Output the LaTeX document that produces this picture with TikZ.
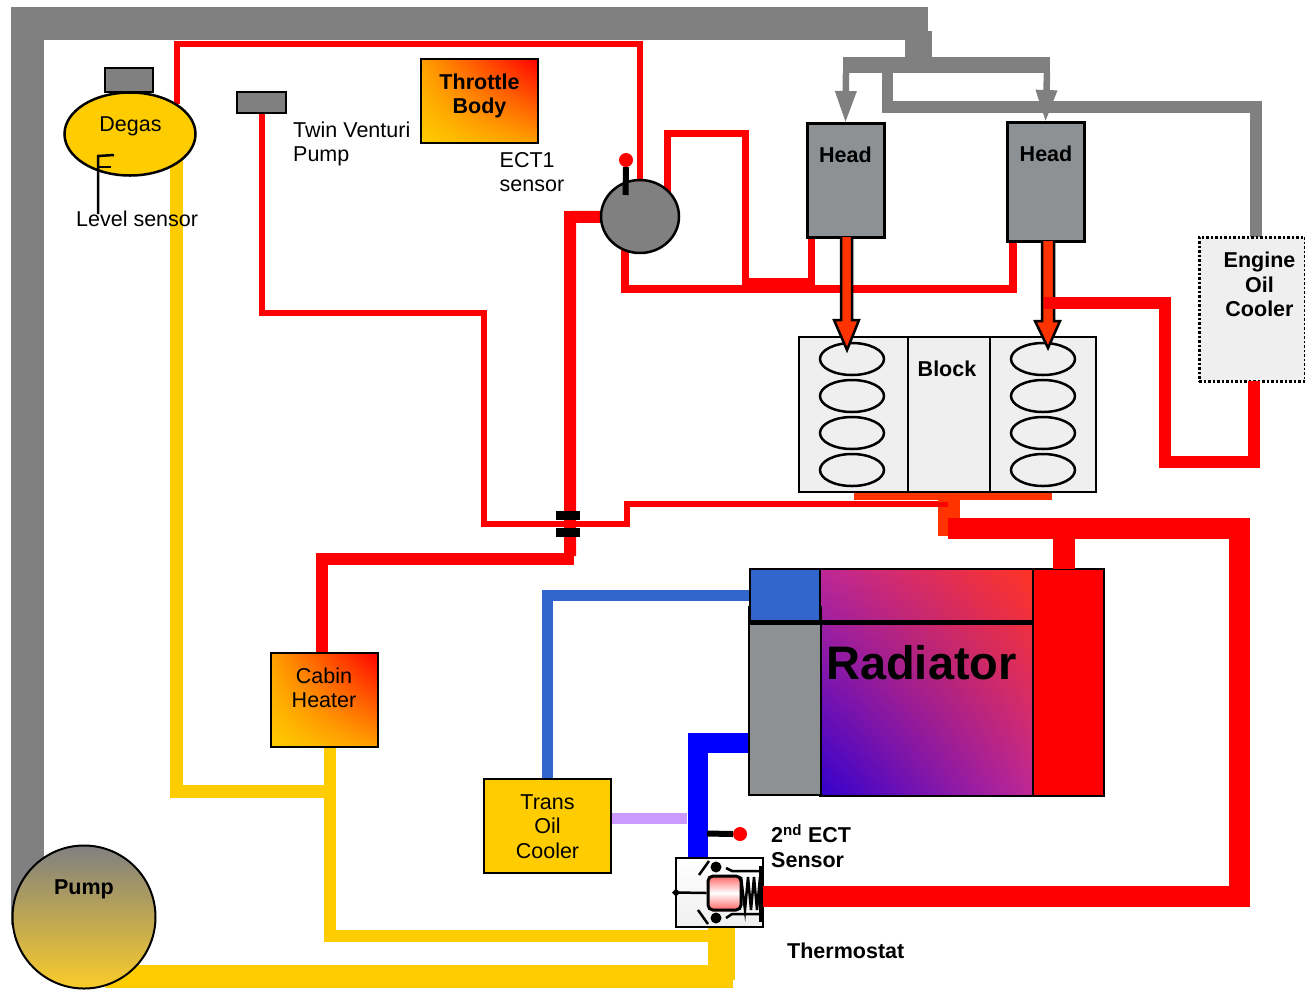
\documentclass[tikz,border=0pt]{standalone}
\usepackage{fontspec}
\setmainfont{Liberation Sans}
\usepackage{xcolor}
\usepackage{tikz}
\usetikzlibrary{backgrounds,shadings,shapes.geometric,arrows.meta}

\definecolor{pipegray}{HTML}{808080}
\definecolor{headgray}{HTML}{8E9194}
\definecolor{coolant}{HTML}{FFCC00}
\definecolor{hotpipe}{HTML}{FF3300}
\definecolor{transblue}{HTML}{3366CC}
\definecolor{lavender}{HTML}{CC99FF}
\definecolor{blockfill}{HTML}{EFEFEF}
\definecolor{warmmid}{HTML}{FFA000}
\definecolor{coldcorner}{HTML}{3300CC}
\definecolor{hotcorner}{HTML}{FF3322}
\definecolor{radmid}{HTML}{BE2896}
\definecolor{pumpmid}{HTML}{DCB658}
\definecolor{pumplow}{HTML}{FACC2A}

\tikzset{
    box/.style={draw=black, line width=2.5pt, inner sep=0pt, outer sep=0pt, align=center},
    warmbox/.style={box, lower left=coolant, upper right=red, upper left=warmmid, lower right=warmmid},
    txt/.style={font=\fontsize{21.5}{24.5}\selectfont, align=center, inner sep=0pt},
    boldtxt/.style={txt, font=\fontsize{21.5}{24.5}\selectfont\bfseries},
    leftxt/.style={txt, align=left, anchor=west},
    pipe/.style={line cap=butt, line join=miter},
    sensorstem/.style={black, line width=6pt},
    sensordot/.style={circle, fill=red, inner sep=0pt, minimum size=14pt},
    grayarrow/.style={-{Triangle[length=32pt,width=20pt]}, pipegray, line width=6.5pt},
    hotarrow/.style={draw=black, fill=hotpipe, line width=2.5pt, line join=miter},
}

\begin{document}
\begin{tikzpicture}[x=1pt,y=-1pt]
    \useasboundingbox (0,0) rectangle (1305,989);

    % Tanks and pump
    \node[box, fill=pipegray, minimum width=48pt, minimum height=24pt] (DegasCap) at (129,80) {};
    \node[ellipse, box, fill=coolant, minimum width=131pt, minimum height=83pt] (Degas) at (130,134) {};
    \node[box, fill=pipegray, minimum width=49pt, minimum height=21pt] (Venturi) at (261.5,102.5) {};
    \node[circle, draw=black, line width=2pt, top color=pipegray, middle color=pumpmid, bottom color=pumplow, minimum size=143pt, inner sep=0pt] (Pump) at (84,917) {};

    % Boxes
    \node[warmbox, minimum width=117pt, minimum height=84pt] (Throttle) at (479.5,101) {};
    \node[warmbox, minimum width=107pt, minimum height=94pt] (Heater) at (324.5,700) {};
    \node[box, fill=coolant, minimum width=127pt, minimum height=94pt] (TransCooler) at (547.5,826) {};
    \node[box, fill=headgray, line width=3pt, minimum width=77pt, minimum height=114pt] (HeadA) at (845.5,180) {};
    \node[box, fill=headgray, line width=3pt, minimum width=77pt, minimum height=119pt] (HeadB) at (1045.5,181.5) {};
    \node[box, fill=blockfill, dotted, line width=3pt, minimum width=106pt, minimum height=144pt] (OilCooler) at (1252,309) {};
    \node[ellipse, draw=black, line width=2.5pt, fill=pipegray, minimum width=78pt, minimum height=73pt, inner sep=0pt] (Valve) at (640,216.5) {};

    % Block
    \node[box, fill=blockfill, minimum width=297pt, minimum height=155pt] (Block) at (947.5,414.5) {};
    \draw[line width=2.5pt] (908,337) -- (908,492);
    \draw[line width=2.5pt] (990,337) -- (990,492);
    \foreach \i in {359,396,433,470} {
        \draw[line width=2.5pt] (852,\i) ellipse (32 and 16);
        \draw[line width=2.5pt] (1043,\i) ellipse (32 and 16);
    }

    % Radiator
    \node[box, fill=red, line width=2pt, minimum width=71pt, minimum height=227pt] (RadRed) at (1068.5,682.5) {};
    \node[box, line width=2pt, lower left=coldcorner, upper right=hotcorner, upper left=radmid, lower right=radmid, minimum width=213pt, minimum height=227pt] (RadCore) at (926.5,682.5) {};
    \node[box, fill=headgray, line width=2pt, minimum width=72pt, minimum height=188pt] (RadGray) at (784.5,701) {};
    \node[box, fill=transblue, line width=2pt, minimum width=70pt, minimum height=53pt] (RadBlue) at (785,595.5) {};
    \draw[line width=5pt] (RadBlue.south west) -- (RadRed.west |- RadBlue.south);

    % Thermostat
    \node[box, top color=white, bottom color=blockfill, minimum width=87pt, minimum height=69pt] (Thermostat) at (719.5,892.5) {};
    \node[draw=black, line width=3pt, rounded corners=5pt, top color=red!60!white, bottom color=red!60!white, middle color=white, minimum width=33pt, minimum height=34pt, inner sep=0pt] (Piston) at (724.5,893) {};
    \draw[line width=2.5pt] (741,877) -- (745,910) -- (748,877) -- (751,910) -- (754,877) -- (757,910) -- (760,877);
    \draw[line width=3pt] (760,866) -- (760,922);
    \draw[line width=2.5pt] (726,868) -- (732,871) -- (760,871);
    \draw[line width=2.5pt] (726,918) -- (732,914) -- (760,914);
    \draw[line width=2.5pt] (699,875) -- (709,861);
    \draw[line width=2.5pt] (698,910) -- (708,924);
    \draw[line width=2.5pt] (Thermostat.west) -- (Piston.west);
    \fill (Thermostat.west) +(-4,0) -- +(0,-4) -- +(4,0) -- +(0,4) -- cycle;
    \fill (716,867) circle (5.5);
    \fill (716,918) circle (5.5);

    % Ports
    \coordinate (DegasOut) at (176.5,160);
    \coordinate (DegasIn) at (176.5,104);
    \coordinate (ValveHot) at (667,192);
    \coordinate (ValveLow) at (625,250);
    \coordinate (HeadAOut) at (811,237);
    \coordinate (HeadBOut) at (1013,241);
    \coordinate (GrayDrop) at (918,31);

    \begin{scope}[on background layer]
        % Gray return
        \draw[pipe, pipegray, line width=33pt] (27.5,925) -- (27.5,23.5) -- (928,23.5);
        \draw[pipe, pipegray, line width=27pt] (GrayDrop) -- (918,62);
        \draw[pipe, pipegray, line width=16pt] (843,65) -- (1050,65);
        \draw[pipe, pipegray, line width=11.5pt] (887.5,70) -- (887.5,107) -- (1256,107) -- (1256,237);

        % Yellow lines
        \draw[pipe, coolant, line width=13pt] (DegasOut) -- (176.5,791) -- (336,791);
        \draw[pipe, coolant, line width=12pt] (330,747) -- (330,936) -- (735,936);
        \draw[pipe, coolant, line width=23pt] (105,976.5) -- (733,976.5);
        \draw[pipe, coolant, line width=27pt] (721.5,928) -- (721.5,980);

        % Red lines
        \draw[pipe, red, line width=6pt] (DegasIn) -- (176.5,44) -- (640,44) -- (Valve.north);
        \draw[pipe, red, line width=6pt] (Venturi.south) -- (261.5,313) -- (484,313) -- (484,523.5) -- (627,523.5) -- (627,504) -- (948,504);
        \draw[pipe, red, line width=12pt] (Valve.center) -- (570,217) -- (570,556);
        \draw[pipe, red, line width=12pt] (574,559) -- (322,559) -- (322,653);
        \draw[pipe, red, line width=7pt] (HeadAOut) -- (811,281) -- (745,281) -- (745,133) -- (667,133) -- (ValveHot);
        \draw[pipe, red, line width=7.5pt] (ValveLow) -- (625,289) -- (1013,289) -- (HeadBOut);

        % Blue lines
        \draw[pipe, transblue, line width=11pt] (RadBlue.west) -- (547.5,595.5) -- (TransCooler.north);
        \draw[pipe, blue, line width=20pt] (749,743) -- (697.5,743) -- (697.5,858);
        \draw[pipe, lavender, line width=11pt] (611,818) -- (687,818);

        % Block drain
        \draw[pipe, hotpipe, line width=7pt] (854,496.5) -- (1052,496.5);
        \draw[pipe, hotpipe, line width=22pt] (949,492) -- (949,536);
    \end{scope}

    % Head to block
    \draw[hotarrow] (841,237) -- (841,320) -- (834,320) -- (847,350) -- (859,320) -- (852,320) -- (852,237);
    \draw[hotarrow] (1042,241) -- (1042,321) -- (1035,321) -- (1048,348) -- (1060,321) -- (1054,321) -- (1054,241);

    % Arrows into heads
    \draw[grayarrow] (846,73) -- (HeadA.north);
    \draw[grayarrow] (1047,73) -- (HeadB.north);

    % Hot lines
    \draw[pipe, red, line width=12pt] (1254,381) -- (1254,462) -- (1165,462) -- (1165,303) -- (1044,303);
    \draw[pipe, red, line width=21pt] (948,528) -- (1239.5,528) -- (1239.5,896.5) -- (Thermostat.east |- 0,896.5);
    \draw[pipe, red, line width=22pt] (1064,528) -- (1064,569);
    \draw[pipe, red, line width=5pt] (870,504) -- (948,504);

    % Clamps
    \fill (556,511) rectangle (580,520);
    \fill (556,528) rectangle (580,537);

    % Sensors
    \node[sensordot] (SensorA) at (626,160) {};
    \draw[sensorstem] (SensorA.south) -- (625.5,195);
    \node[sensordot] (SensorB) at (740,834) {};
    \draw[sensorstem] (SensorB.west) -- (707,833.5);
    \draw[line width=2.5pt] (98,214) -- (98,156) -- (114,155);
    \draw[line width=2.5pt] (98,167) -- (111,167);

    % Labels
    \node[txt] (DegasLabel) at (130.5,126) {Degas};
    \node[leftxt] (VenturiLabel) at (293,144) {Twin Venturi\\Pump};
    \node[txt, anchor=west] (LevelLabel) at (76,219) {Level sensor};
    \node[boldtxt] (ThrottleLabel) at (479.5,96) {Throttle\\Body};
    \node[leftxt] (EctLabel) at (499.5,172) {ECT1\\sensor};
    \node[boldtxt] (HeadALabel) at (845.5,155) {Head};
    \node[boldtxt] (HeadBLabel) at (1046,154) {Head};
    \node[boldtxt] (CoolerLabel) at (1259.5,284.5) {Engine\\Oil\\Cooler};
    \node[boldtxt] (BlockLabel) at (947,368.5) {Block};
    \node[txt] (HeaterLabel) at (324,688) {Cabin\\Heater};
    \node[txt] (TransLabel) at (547.5,826.5) {Trans\\Oil\\Cooler};
    \node[boldtxt] (PumpLabel) at (84,889) {Pump};
    \node[leftxt, font=\fontsize{21.5}{25}\selectfont\bfseries] (SecondLabel) at (771,846) {2\textsuperscript{nd} ECT\\Sensor};
    \node[boldtxt, anchor=west] (ThermoLabel) at (787,951) {Thermostat};
    \node[font=\fontsize{47}{50}\selectfont\bfseries, inner sep=0pt] (RadLabel) at (921.5,663) {Radiator};
\end{tikzpicture}
\end{document}
